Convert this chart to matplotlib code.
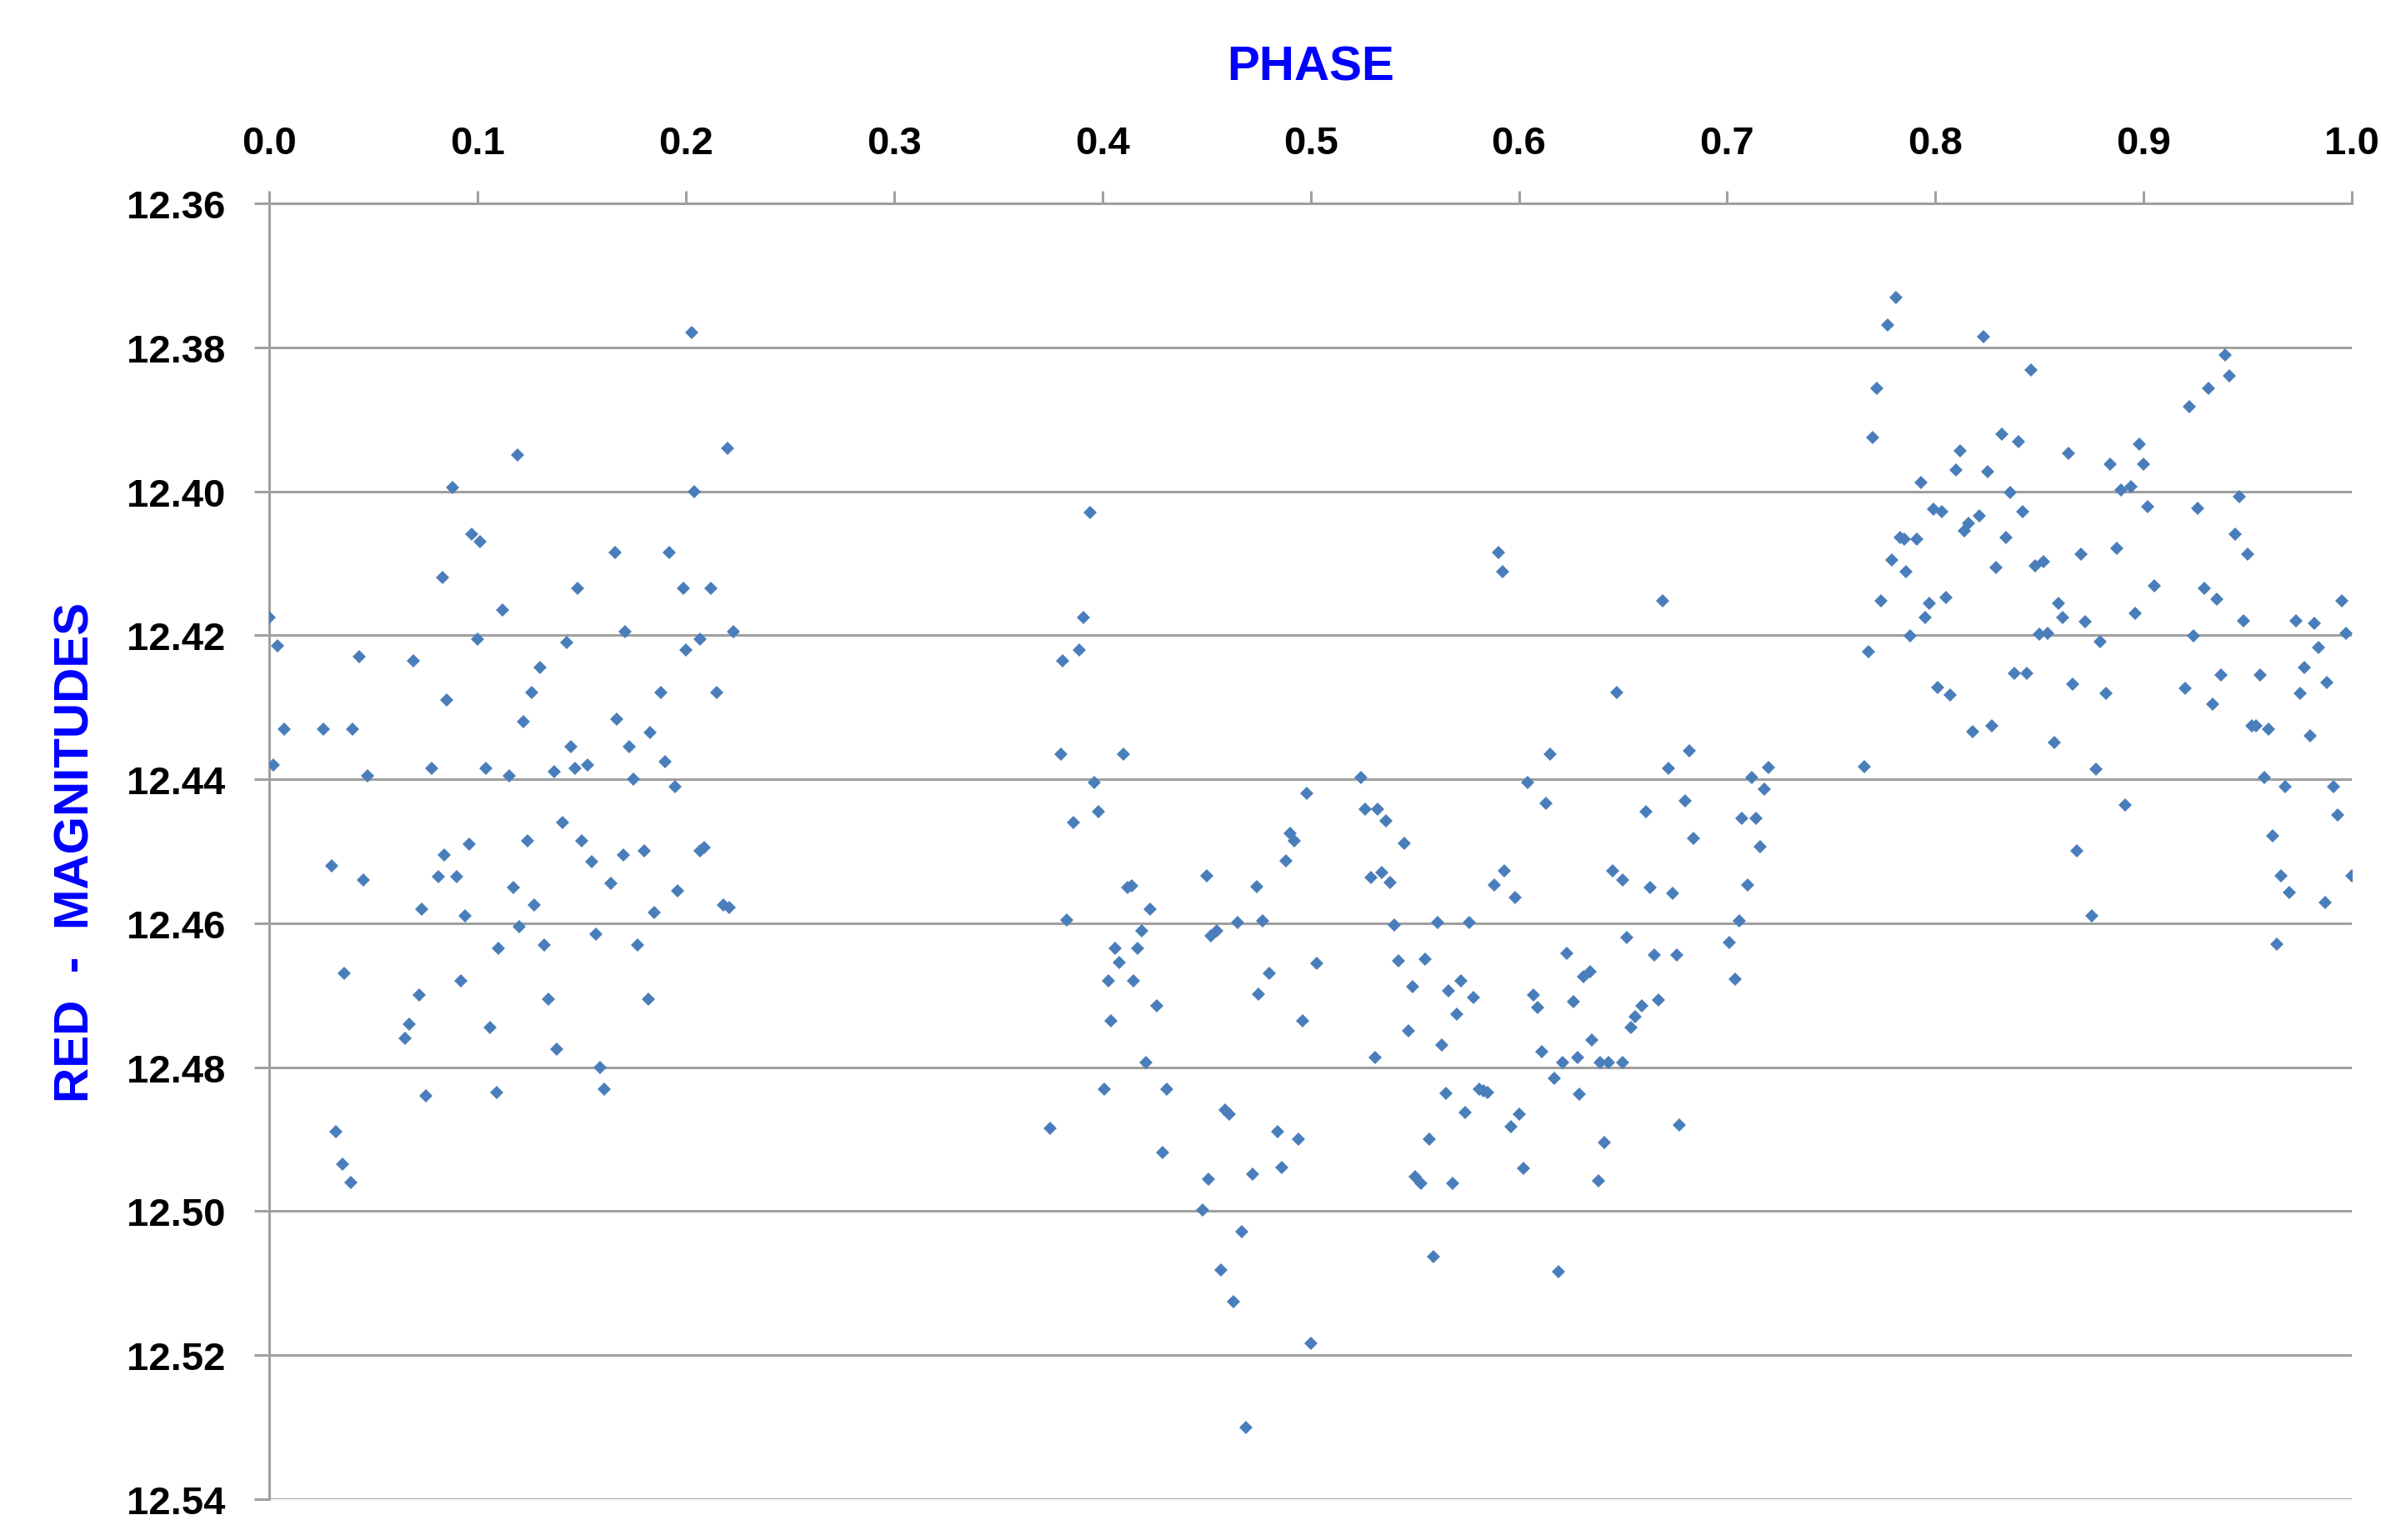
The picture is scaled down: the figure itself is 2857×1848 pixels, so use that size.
import numpy as np
import matplotlib.pyplot as plt

# phased light curve, red filter
phase = [
    0.000, 0.004, 0.007, 0.002, 0.026, 0.040, 0.043, 0.047, 0.030, 0.045,
    0.036, 0.032, 0.035, 0.039, 0.069, 0.065, 0.067, 0.072, 0.073, 0.075,
    0.078, 0.081, 0.083, 0.084, 0.085, 0.088, 0.090, 0.092, 0.096, 0.094,
    0.097, 0.100, 0.101, 0.104, 0.106, 0.109, 0.110, 0.112, 0.115, 0.117,
    0.119, 0.120, 0.122, 0.124, 0.126, 0.127, 0.130, 0.132, 0.134, 0.137,
    0.138, 0.141, 0.143, 0.145, 0.147, 0.148, 0.150, 0.153, 0.155, 0.157,
    0.159, 0.161, 0.164, 0.166, 0.167, 0.170, 0.171, 0.173, 0.175, 0.177,
    0.180, 0.182, 0.183, 0.185, 0.188, 0.190, 0.192, 0.195, 0.196, 0.199,
    0.200, 0.203, 0.204, 0.207, 0.207, 0.209, 0.212, 0.215, 0.218, 0.220,
    0.221, 0.223,
    0.375, 0.380, 0.381, 0.383, 0.386, 0.389, 0.391, 0.394, 0.396, 0.398,
    0.401, 0.403, 0.404, 0.406, 0.408, 0.410, 0.412, 0.414, 0.415, 0.417,
    0.419, 0.421, 0.423, 0.426, 0.429, 0.431, 0.448, 0.450, 0.451, 0.452,
    0.455, 0.457, 0.459, 0.461, 0.463, 0.465, 0.467, 0.469, 0.472, 0.474,
    0.475, 0.477, 0.480, 0.484, 0.486, 0.488, 0.490, 0.492, 0.494, 0.496,
    0.498, 0.500, 0.503, 0.524, 0.526, 0.529, 0.531, 0.532, 0.534, 0.536,
    0.538, 0.540, 0.542, 0.545, 0.547, 0.549, 0.550, 0.553, 0.555, 0.557,
    0.559, 0.561, 0.563, 0.565, 0.566, 0.568, 0.570, 0.572, 0.574, 0.576,
    0.578, 0.581, 0.583, 0.585, 0.588, 0.590, 0.592, 0.593, 0.596, 0.598,
    0.600, 0.602, 0.604, 0.607, 0.609, 0.611, 0.613, 0.615, 0.617, 0.619,
    0.621, 0.623, 0.626, 0.628, 0.629, 0.631, 0.634, 0.635, 0.638, 0.639,
    0.641, 0.643, 0.645, 0.647, 0.650, 0.650, 0.652, 0.654, 0.656, 0.659,
    0.661, 0.663, 0.665, 0.667, 0.669, 0.672, 0.674, 0.676, 0.677, 0.680,
    0.682, 0.684, 0.701, 0.704, 0.706, 0.707, 0.710, 0.712, 0.714, 0.716,
    0.718, 0.720,
    0.766, 0.768, 0.770, 0.772, 0.774, 0.777, 0.779, 0.781, 0.783, 0.785,
    0.786, 0.788, 0.791, 0.793, 0.795, 0.797, 0.799, 0.801, 0.803, 0.805,
    0.807, 0.810, 0.812, 0.814, 0.816, 0.818, 0.821, 0.823, 0.825, 0.827,
    0.829, 0.832, 0.834, 0.836, 0.838, 0.840, 0.842, 0.844, 0.846, 0.848,
    0.850, 0.852, 0.854, 0.857, 0.859, 0.861, 0.864, 0.866, 0.868, 0.870,
    0.872, 0.875, 0.877, 0.879, 0.882, 0.884, 0.887, 0.889, 0.891, 0.894,
    0.896, 0.898, 0.900, 0.902, 0.905, 0.920, 0.922, 0.924, 0.926, 0.929,
    0.931, 0.933, 0.935, 0.937, 0.939, 0.941, 0.944, 0.946, 0.948, 0.950,
    0.952, 0.954, 0.956, 0.958, 0.960, 0.962, 0.964, 0.966, 0.968, 0.970,
    0.973, 0.975, 0.977, 0.980, 0.982, 0.984, 0.987, 0.988, 0.991, 0.993,
    0.995, 0.997, 1.000,
]
red_mag = [
    12.4175, 12.4215, 12.4330, 12.4380, 12.4330, 12.4330, 12.4230, 12.4395, 12.4520, 12.4540,
    12.4670, 12.4890, 12.4935, 12.4960, 12.4235, 12.4760, 12.4740, 12.4700, 12.4580, 12.4840,
    12.4385, 12.4535, 12.4120, 12.4505, 12.4290, 12.3995, 12.4535, 12.4680, 12.4490, 12.4590,
    12.4060, 12.4205, 12.4070, 12.4385, 12.4745, 12.4835, 12.4635, 12.4165, 12.4395, 12.4550,
    12.3950, 12.4605, 12.4320, 12.4485, 12.4280, 12.4575, 12.4245, 12.4630, 12.4705, 12.4390,
    12.4775, 12.4460, 12.4210, 12.4355, 12.4385, 12.4135, 12.4485, 12.4380, 12.4515, 12.4615,
    12.4800, 12.4830, 12.4545, 12.4085, 12.4317, 12.4505, 12.4195, 12.4355, 12.4400, 12.4630,
    12.4500, 12.4705, 12.4335, 12.4585, 12.4280, 12.4375, 12.4085, 12.4410, 12.4555, 12.4135,
    12.4220, 12.3780, 12.4000, 12.4500, 12.4205, 12.4495, 12.4135, 12.4280, 12.4575, 12.3940,
    12.4578, 12.4195,
    12.4885, 12.4365, 12.4235, 12.4595, 12.4460, 12.4220, 12.4175, 12.4030, 12.4405, 12.4445,
    12.4830, 12.4680, 12.4735, 12.4635, 12.4655, 12.4365, 12.4550, 12.4548, 12.4680, 12.4635,
    12.4610, 12.4793, 12.4580, 12.4715, 12.4918, 12.4831, 12.4998, 12.4534, 12.4956, 12.4618,
    12.4610, 12.5082, 12.4860, 12.4865, 12.5126, 12.4599, 12.5029, 12.5300, 12.4949, 12.4549,
    12.4698, 12.4597, 12.4670, 12.4890, 12.4939, 12.4513, 12.4475, 12.4485, 12.4900, 12.4736,
    12.4420, 12.5183, 12.4656, 12.4397, 12.4441, 12.4536, 12.4786, 12.4441, 12.4530, 12.4458,
    12.4543, 12.4603, 12.4652, 12.4489, 12.4749, 12.4688, 12.4952, 12.4961, 12.4650, 12.4900,
    12.5063, 12.4599, 12.4769, 12.4836, 12.4694, 12.4961, 12.4726, 12.4680, 12.4863, 12.4599,
    12.4703, 12.4830, 12.4833, 12.4835, 12.4547, 12.4085, 12.4112, 12.4527, 12.4882, 12.4564,
    12.4865, 12.4941, 12.4405, 12.4700, 12.4717, 12.4778, 12.4434, 12.4365, 12.4816, 12.5084,
    12.4793, 12.4642, 12.4709, 12.4787, 12.4838, 12.4674, 12.4667, 12.4762, 12.4958, 12.4793,
    12.4905, 12.4793, 12.4527, 12.4279, 12.4540, 12.4793, 12.4620, 12.4745, 12.4730, 12.4715,
    12.4445, 12.4550, 12.4644, 12.4707, 12.4152, 12.4385, 12.4559, 12.4644, 12.4880, 12.4430,
    12.4360, 12.4482, 12.4627, 12.4678, 12.4597, 12.4454, 12.4547, 12.4397, 12.4454, 12.4494,
    12.4414, 12.4384,
    12.4382, 12.4223, 12.3925, 12.3857, 12.4152, 12.3769, 12.4095, 12.3731, 12.4064, 12.4066,
    12.4112, 12.4201, 12.4066, 12.3988, 12.4175, 12.4156, 12.4025, 12.4272, 12.4028, 12.4147,
    12.4283, 12.3971, 12.3944, 12.4055, 12.4045, 12.4334, 12.4034, 12.3785, 12.3973, 12.4326,
    12.4106, 12.3921, 12.4064, 12.4002, 12.4253, 12.3931, 12.4028, 12.4253, 12.3832, 12.4104,
    12.4199, 12.4098, 12.4197, 12.4349, 12.4156, 12.4175, 12.3947, 12.4268, 12.4500, 12.4087,
    12.4181, 12.4590, 12.4386, 12.4209, 12.4281, 12.3962, 12.4079, 12.3998, 12.4436, 12.3994,
    12.4169, 12.3935, 12.3962, 12.4021, 12.4131, 12.4274, 12.3883, 12.4201, 12.4024, 12.4135,
    12.3857, 12.4296, 12.4150, 12.4255, 12.3811, 12.3840, 12.4060, 12.4008, 12.4180, 12.4087,
    12.4326, 12.4326, 12.4255, 12.4397, 12.4330, 12.4479, 12.4629, 12.4534, 12.4410, 12.4557,
    12.4180, 12.4281, 12.4245, 12.4340, 12.4183, 12.4217, 12.4571, 12.4266, 12.4410, 12.4450,
    12.4152, 12.4197, 12.4534,
]

x_ticks = np.arange(0.0, 1.01, 0.1)
y_ticks = np.arange(12.36, 12.541, 0.02)

plt.rcParams['font.family'] = ['Liberation Sans', 'DejaVu Sans']
plt.rcParams['font.weight'] = 'bold'

fig = plt.figure(figsize=(28.57, 18.49), dpi=100)
ax = fig.add_axes([0.1131, 0.0265, 0.8747, 0.841])

grey = '#a0a0a0'
ax.plot(phase, red_mag, 'D', color='#4a7ebb', ms=8, mew=0, zorder=3)

ax.set_xlim(0.0, 1.0)
ax.set_ylim(12.54, 12.36)
ax.set_xticks(x_ticks)
ax.set_xticklabels(['%.1f' % t for t in x_ticks])
ax.set_yticks(y_ticks)
ax.set_yticklabels(['%.2f' % t for t in y_ticks])

ax.xaxis.tick_top()
ax.xaxis.set_label_position('top')
ax.tick_params(axis='x', direction='out', length=11, width=2.2, color=grey,
               labelsize=34, pad=25)
ax.tick_params(axis='y', direction='out', length=13, width=2.2, color=grey,
               labelsize=34, pad=25)

for side in ['bottom', 'right']:
    ax.spines[side].set_visible(False)
for side in ['top', 'left']:
    ax.spines[side].set_color(grey)
    ax.spines[side].set_linewidth(2.2)

ax.yaxis.grid(True, color=grey, linewidth=2.2)
ax.set_axisbelow(True)

ax.set_xlabel('PHASE', color='#0000ff', fontsize=42, fontweight='bold', labelpad=39)
ax.set_ylabel('RED  -  MAGNITUDES', color='#0000ff', fontsize=42, fontweight='bold', labelpad=24)

fig.savefig('out.png', dpi=100)
